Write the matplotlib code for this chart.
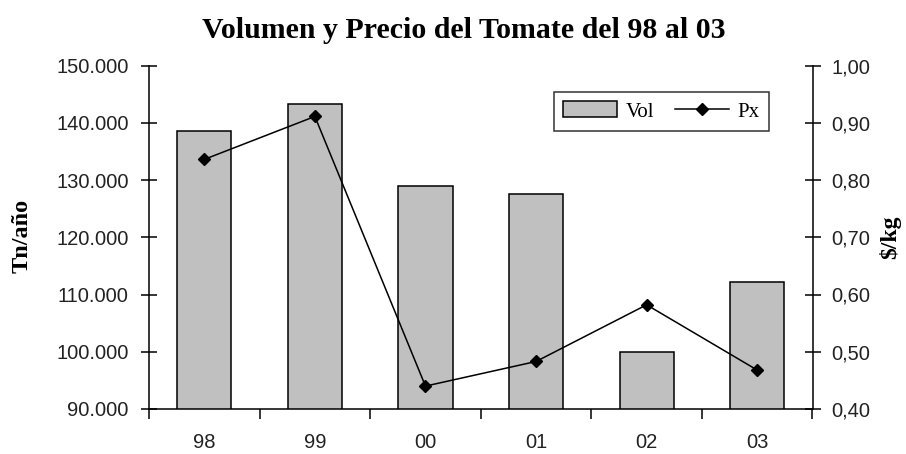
import matplotlib
matplotlib.use("Agg")
import matplotlib.pyplot as plt
import numpy as np

# Data
years = ["98", "99", "00", "01", "02", "03"]
volume = [138500, 143300, 129000, 127500, 99900, 112100]   # Tn/año
price = [0.836, 0.911, 0.440, 0.483, 0.582, 0.468]          # $/kg

left_ticks = [90000, 100000, 110000, 120000, 130000, 140000, 150000]
left_labels = ["90.000", "100.000", "110.000", "120.000", "130.000", "140.000", "150.000"]
right_ticks = [0.40, 0.50, 0.60, 0.70, 0.80, 0.90, 1.00]
right_labels = ["0,40", "0,50", "0,60", "0,70", "0,80", "0,90", "1,00"]

title = "Volumen y Precio del Tomate del 98 al 03"

fig = plt.figure(figsize=(9.06, 4.54), dpi=100)
ax = fig.add_axes([149/906, 1 - 409/454, (812.5 - 149)/906, (409 - 65.5)/454])
ax2 = ax.twinx()

x = np.arange(len(years))
bars = ax.bar(x, volume, width=0.49, color="#c0c0c0", edgecolor="black",
              linewidth=1.1, label="Vol", zorder=2)
line, = ax2.plot(x, price, color="black", linewidth=1.1, marker="D",
                 markersize=6, markerfacecolor="black", label="Px", zorder=3)

ax.set_xlim(-0.5, len(years) - 0.5)
ax.set_ylim(90000, 150000)
ax2.set_ylim(0.40, 1.00)

tick_font = dict(family="Liberation Sans", size=14.5, color="#222222")

ax.set_yticks(left_ticks)
ax.set_yticklabels(left_labels, **tick_font)
ax2.set_yticks(right_ticks)
ax2.set_yticklabels(right_labels, **tick_font)

ax.set_xticks(np.arange(-0.5, len(years), 1.0))
ax.set_xticklabels([""] * (len(years) + 1))
ax.set_xticks(x, minor=True)
ax.set_xticklabels(years, minor=True, **tick_font)
ax.tick_params(axis="x", which="minor", length=0, pad=17)
ax.tick_params(axis="x", which="major", direction="out", length=7, width=1.1)
ax.tick_params(axis="y", direction="inout", length=11, width=1.1, pad=9)
ax2.tick_params(axis="y", direction="inout", length=11, width=1.1, pad=8)

for a in (ax, ax2):
    a.spines["top"].set_visible(False)
    for s in ("left", "right", "bottom"):
        a.spines[s].set_linewidth(1.1)
ax2.spines["left"].set_visible(False)
ax2.spines["bottom"].set_visible(False)
ax.spines["right"].set_visible(False)

fig.text(22/906, 1 - 236/454, "Tn/año", rotation=90, ha="center", va="center",
         family="Liberation Serif", weight="bold", size=17.5)
fig.text(890/906, 1 - 237/454, "$/kg", rotation=90, ha="center", va="center",
         family="Liberation Serif", weight="bold", size=17)

fig.text(464/906, 1 - 31/454, title, ha="center", va="center",
         family="Liberation Serif", weight="bold", size=21.5)

leg = ax2.legend([bars, line], ["Vol", "Px"], ncol=2, loc="upper right",
                 bbox_to_anchor=(769/906, 1 - 92/454), bbox_transform=fig.transFigure,
                 borderaxespad=0, frameon=True, fancybox=False, edgecolor="black",
                 prop=dict(family="Liberation Serif", size=15),
                 handlelength=2.6, handleheight=0.8, handletextpad=0.4,
                 columnspacing=1.0, borderpad=0.45)
leg.get_frame().set_linewidth(1.1)

fig.savefig("out.png", dpi=100, facecolor="white")
